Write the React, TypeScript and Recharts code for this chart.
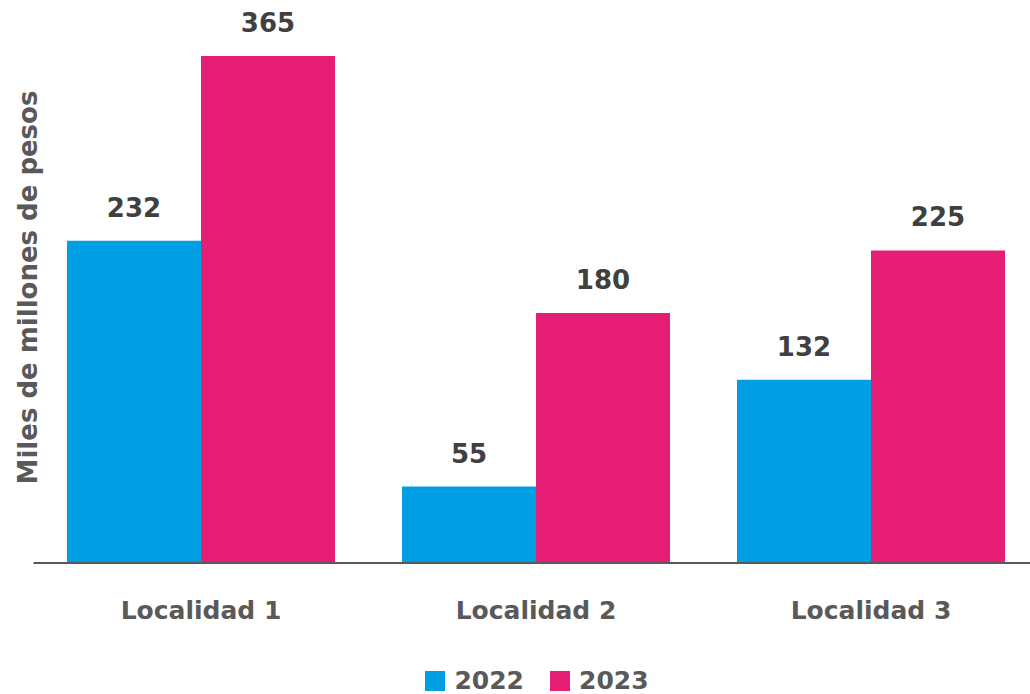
import React from 'react';
import { BarChart, Bar, XAxis, YAxis, Legend, LabelList } from 'recharts';

// Values (thousands of millions of pesos)
const categories = ['Localidad 1', 'Localidad 2', 'Localidad 3'];
const values2022 = [232, 55, 132];
const values2023 = [365, 180, 225];
const seriesNames = ['2022', '2023'];

const COLORS = ['#009FE3', '#E61E73'];
const FONT = '"DejaVu Sans", "Noto Sans", sans-serif';

const data = categories.map((name, i) => ({
  name,
  [seriesNames[0]]: values2022[i],
  [seriesNames[1]]: values2023[i],
}));

function YTitle({ viewBox }: any) {
  const cx = viewBox.x + 28;
  const cy = viewBox.y + viewBox.height / 2 - 22;
  return (
    <text
      x={cx}
      y={cy}
      transform={`rotate(-90 ${cx} ${cy})`}
      textAnchor="middle"
      dominantBaseline="central"
      fill="#595959"
      fontFamily={FONT}
      fontWeight={700}
      fontSize={26}
    >
      Miles de millones de pesos
    </text>
  );
}

function LegendContent() {
  return (
    <div style={{ display: 'flex', justifyContent: 'center', gap: 26, fontFamily: FONT, paddingLeft: 44 }}>
      {seriesNames.map((s, i) => (
        <div key={s} style={{ display: 'flex', alignItems: 'center', gap: 9 }}>
          <span style={{ display: 'inline-block', width: 20, height: 20, background: COLORS[i] }} />
          <span style={{ fontSize: 25, fontWeight: 700, color: '#595959', lineHeight: '24px' }}>{s}</span>
        </div>
      ))}
    </div>
  );
}

export default function App() {
  return (
    <div style={{ position: 'absolute', left: 0, top: 0, width: 1030, height: 694, overflow: 'hidden', background: '#fff' }}>
      <BarChart
        width={1040}
        height={694}
        data={data}
        margin={{ top: 56, right: 1.5, left: 0, bottom: 101 }}
        barCategoryGap="10%"
        barGap={0}
      >
        <XAxis
          dataKey="name"
          axisLine={{ stroke: '#595959', strokeWidth: 2 }}
          tickLine={false}
          tickMargin={32}
          tick={{ fill: '#595959', fontFamily: FONT, fontWeight: 700, fontSize: 25 }}
        />
        <YAxis
          width={33.5}
          domain={[0, 365]}
          allowDataOverflow
          tick={false}
          axisLine={false}
          tickLine={false}
          label={<YTitle />}
        />
        <Legend
          verticalAlign="middle"
          align="center"
          content={<LegendContent />}
          wrapperStyle={{ position: 'absolute', top: 669, left: 0, width: 1030 }}
        />
        {seriesNames.map((s, i) => (
          <Bar key={s} dataKey={s} fill={COLORS[i]} isAnimationActive={false}>
            <LabelList
              dataKey={s}
              position="top"
              offset={24}
              fill="#404040"
              fontFamily={FONT}
              fontWeight={700}
              fontSize={26}
            />
          </Bar>
        ))}
      </BarChart>
    </div>
  );
}
